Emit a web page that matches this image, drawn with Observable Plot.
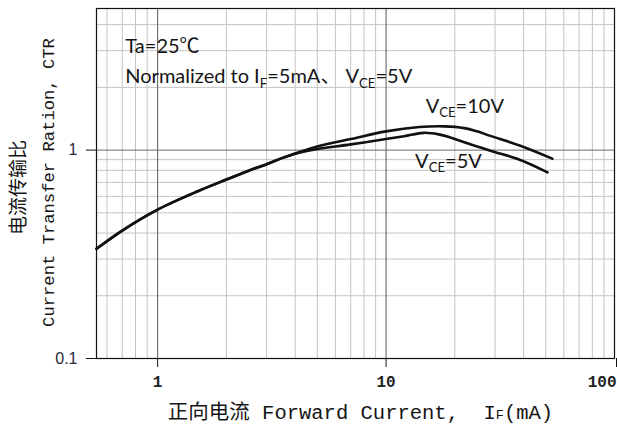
<!DOCTYPE html>
<html>
<head>
<meta charset="utf-8">
<script src="https://cdn.jsdelivr.net/npm/d3@7"></script>
<script src="https://cdn.jsdelivr.net/npm/@observablehq/plot@0.6"></script>
<style>
  html, body { margin: 0; padding: 0; background: #fff; }
</style>
</head>
<body>
<div id="chart"></div>
<script>
// ---- data ----
const ifVce10 = [0.54, 0.7, 1, 1.5, 2, 2.55, 3, 3.5, 4, 4.5, 5, 7, 10, 14, 18, 22, 25, 28.6, 38.7, 53.4];
const ctrVce10 = [0.336, 0.411, 0.518, 0.635, 0.722, 0.803, 0.855, 0.915, 0.962, 1.005, 1.04, 1.13, 1.23, 1.29, 1.30, 1.275, 1.23, 1.17, 1.05, 0.91];

const ifVce5 = [0.54, 0.7, 1, 1.5, 2, 2.55, 3, 3.5, 4, 4.5, 5, 7, 10, 12, 14.6, 17, 19.1, 22, 28.6, 38.7, 50.9];
const ctrVce5 = [0.336, 0.411, 0.518, 0.635, 0.722, 0.803, 0.855, 0.915, 0.96, 0.99, 1.012, 1.065, 1.13, 1.165, 1.21, 1.19, 1.15, 1.09, 0.994, 0.897, 0.782];

// grid and tick values
const xMinorGrid = [0.6, 0.7, 0.8, 0.9, 2, 3, 4, 5, 6, 7, 8, 9, 20, 30, 40, 50, 60, 70, 80, 90];
const xMajorGrid = [1, 10];
const yMinorGrid = [0.2, 0.3, 0.4, 0.5, 0.6, 0.7, 0.8, 0.9, 2, 3, 4];
const yMajorGrid = [1];
const xTickValues = [1, 10];
const xLastTick = [100];
const yTickValues = [0.1, 1];

// annotations (data coordinates)
const annoText = ["Ta=25℃", "Normalized to I_{F}=5mA、 V_{CE}=5V", "V_{CE}=10V", "V_{CE}=5V"];
const annoX = [0.722, 0.722, 14.9, 13.4];
const annoY = [3.14, 2.25, 1.62, 0.881];

const xTitle = "正向电流 Forward Current,\u00a0 I~{F}(mA)";
const yTitleCN = "电流传输比";
const yTitleEN = "Current Transfer Ration, CTR";

// ---- build tables ----
const series10 = ifVce10.map((x, i) => ({x, y: ctrVce10[i]}));
const series5 = ifVce5.map((x, i) => ({x, y: ctrVce5[i]}));
const annotations = annoText.map((t, i) => ({t, x: annoX[i], y: annoY[i]}));

const mono = "'Liberation Mono', 'Noto Sans CJK SC', monospace";
const sans = "Lato, 'Noto Sans CJK SC', sans-serif";

const chart = Plot.plot({
  width: 617,
  height: 427,
  marginLeft: 96,
  marginRight: 3,
  marginTop: 8,
  marginBottom: 69,
  style: {background: "#fff", color: "#111", overflow: "visible"},
  x: {type: "log", domain: [0.54, 100], label: null},
  y: {type: "log", domain: [0.1, 4.78], label: null},
  marks: [
    Plot.ruleX(xMinorGrid, {stroke: "#c4c4c4", strokeWidth: 1}),
    Plot.ruleY(yMinorGrid, {stroke: "#c4c4c4", strokeWidth: 1}),
    Plot.ruleX(xMajorGrid, {stroke: "#5a5a5a", strokeWidth: 1}),
    Plot.ruleY(yMajorGrid, {stroke: "#6a6a6a", strokeWidth: 1}),
    Plot.frame({stroke: "#111", strokeWidth: 1.2}),
    Plot.axisY(yTickValues, {
      anchor: "left", tickSize: 10, tickPadding: 9, label: null,
      fontSize: 16, fontFamily: "'Liberation Sans', sans-serif",
      tickFormat: d => String(d), fill: "#2a2a3a", stroke: "#111"
    }),
    Plot.axisX(xTickValues, {
      anchor: "bottom", tickSize: 9, tickPadding: 8, label: null,
      fontSize: 16, fontFamily: mono, fontWeight: "bold",
      tickFormat: d => String(d), fill: "#222", stroke: "#111"
    }),
    Plot.axisX(xLastTick, {
      anchor: "bottom", tickSize: 9, tickPadding: 8, label: null,
      fontSize: 16, fontFamily: mono, fontWeight: "bold", textAnchor: "end", dx: 2,
      tickFormat: d => String(d), fill: "#222", stroke: "#111"
    }),
    Plot.line(series10, {x: "x", y: "y", curve: "catmull-rom", stroke: "#111", strokeWidth: 2.6}),
    Plot.line(series5, {x: "x", y: "y", curve: "catmull-rom", stroke: "#111", strokeWidth: 2.6}),
    Plot.text(annotations, {
      x: "x", y: "y", text: "t", textAnchor: "start", lineAnchor: "middle",
      fontSize: 20, fontFamily: sans, fill: "#151515"
    }),
    Plot.text([xTitle], {
      frameAnchor: "bottom", dy: 54, dx: 5, lineAnchor: "middle", textAnchor: "middle",
      fontSize: 20.5, fontFamily: mono, fill: "#151515"
    }),
    Plot.text([yTitleCN], {
      frameAnchor: "left", dx: -78, dy: 4, rotate: -90, lineAnchor: "middle", textAnchor: "middle",
      fontSize: 19, fontFamily: "'Noto Sans CJK SC', sans-serif", fill: "#151515"
    }),
    Plot.text([yTitleEN], {
      frameAnchor: "left", dx: -48, dy: -1, rotate: -90, lineAnchor: "middle", textAnchor: "middle",
      fontSize: 17.2, fontFamily: mono, fill: "#151515"
    })
  ]
});

// subscripts: _{..} lowered and small, ~{..} small only
chart.querySelectorAll("text").forEach(t => {
  const s = t.textContent;
  if (!/[_~]\{/.test(s)) return;
  const parts = s.split(/([_~]\{[^}]*\})/);
  while (t.firstChild) t.removeChild(t.firstChild);
  let shifted = 0;
  parts.forEach(p => {
    if (!p) return;
    const ts = document.createElementNS("http://www.w3.org/2000/svg", "tspan");
    const m = p.match(/^([_~])\{([^}]*)\}$/);
    if (m) {
      ts.textContent = m[2];
      ts.setAttribute("font-size", "0.66em");
      const shift = m[1] === "_" ? 4.5 : 0;
      ts.setAttribute("dy", String(shift - shifted));
      shifted = shift;
    } else {
      ts.textContent = p;
      ts.setAttribute("dy", String(-shifted));
      shifted = 0;
    }
    t.appendChild(ts);
  });
});

document.getElementById("chart").appendChild(chart);
</script>
</body>
</html>
